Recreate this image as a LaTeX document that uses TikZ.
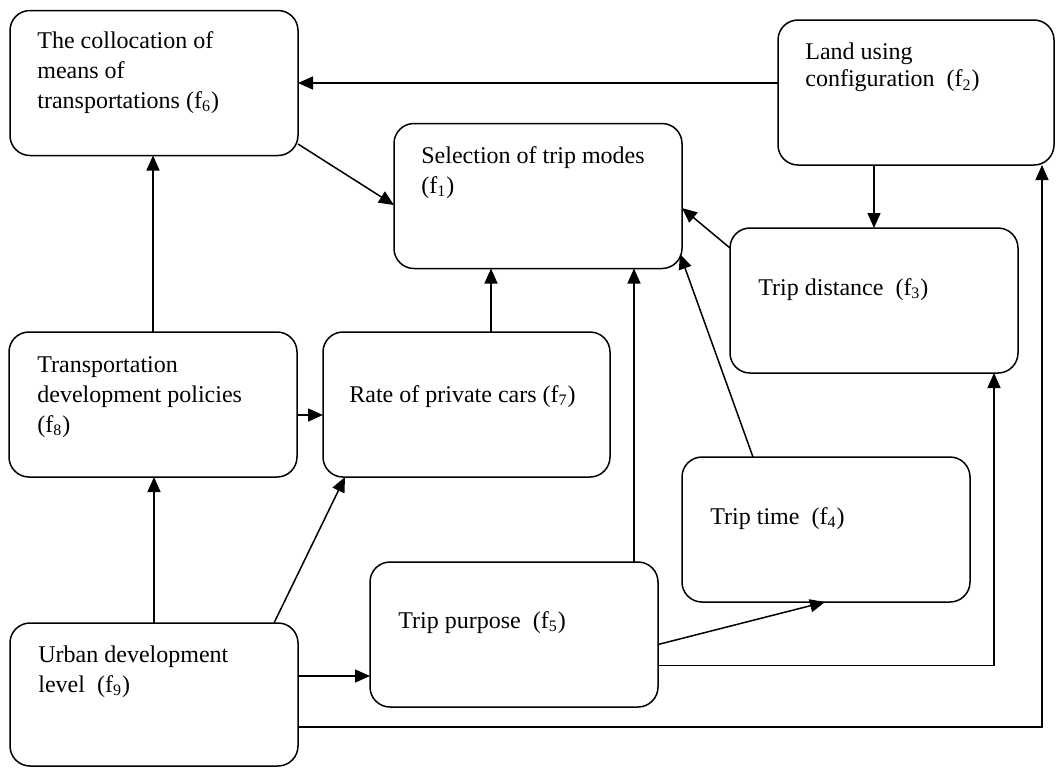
\documentclass[tikz,border=0pt]{standalone}
\usepackage{fontspec}
\setmainfont{Liberation Serif}
\usetikzlibrary{arrows.meta}
\begin{document}
\begin{tikzpicture}[x=0.5pt,y=-0.5pt,
  box/.style={draw, line width=0.75pt, rounded corners=10pt, minimum width=144pt, minimum height=72.5pt, inner sep=0pt, outer sep=0pt, anchor=north west},
  lbl/.style={anchor=base west, inner sep=0pt, font=\fontsize{12pt}{15pt}\selectfont},
  arr/.style={line width=0.75pt, -{Triangle[length=7.5pt,width=6.5pt]}}]
\useasboundingbox (0,0) rectangle (1057,768);
% boxes
\node[box] (f6) at (10,10.5) {};
\node[box, minimum width=138pt] (f2) at (778,20) {};
\node[box] (f1) at (394,123.5) {};
\node[box] (f3) at (730,228) {};
\node[box] (f8) at (9,332) {};
\node[box, minimum width=143.5pt] (f7) at (323,332) {};
\node[box] (f4) at (682,457) {};
\node[box] (f5) at (370,562) {};
\node[box, minimum height=71.5pt] (f9) at (10,623) {};
% labels
\node[lbl] (t6) at (37,48) {\begin{tabular}[t]{@{}l@{}}The collocation of\\ means of\\ transportations (f\textsubscript{6})\end{tabular}};
\node[lbl] (t2) at (805,59) {\renewcommand{\arraystretch}{0.93}\begin{tabular}[t]{@{}l@{}}Land using\\ configuration\ \ (f\textsubscript{2})\end{tabular}};
\node[lbl] (t1) at (421,163) {\begin{tabular}[t]{@{}l@{}}Selection of trip modes\\ (f\textsubscript{1})\end{tabular}};
\node[lbl] (t3) at (758,295) {Trip distance\ \ (f\textsubscript{3})};
\node[lbl] (t8) at (37,372) {\begin{tabular}[t]{@{}l@{}}Transportation\\ development policies\\ (f\textsubscript{8})\end{tabular}};
\node[lbl] (t7) at (349,402) {Rate of private cars (f\textsubscript{7})};
\node[lbl] (t4) at (710,524) {Trip time\ \ (f\textsubscript{4})};
\node[lbl] (t5) at (398,628) {Trip purpose\ \ (f\textsubscript{5})};
\node[lbl] (t9) at (38,662) {\begin{tabular}[t]{@{}l@{}}Urban development\\ level\ \ (f\textsubscript{9})\end{tabular}};
% connectors
\draw[arr] (f6.east -| f2.west) -- (f6.east);
\draw[arr] ([yshift=-30.5pt]f6.east) -- ([yshift=-4.5pt]f1.west);
\draw[arr] (f3.north |- f2.south) -- (f3.north);
\draw[arr] ([yshift=-10pt]f3.north west) -- ([yshift=-6pt]f1.east);
\draw[arr] ([xshift=35.5pt]f4.north west) -- ([xshift=-1pt,yshift=-29pt]f1.east);
\draw[arr] ([xshift=12.25pt]f7.north) coordinate (c7) -- (c7 |- f1.south);
\draw[arr] ([xshift=60pt]f5.north) coordinate (c5) -- (c5 |- f1.south);
\draw[arr] (f8.north) -- (f8.north |- f6.south);
\draw[arr] ([yshift=-5.25pt]f8.east) coordinate (c8) -- (c8 -| f7.west);
\draw[arr] (f9.north) -- (f9.north |- f8.south);
\draw[arr] ([xshift=-12pt]f9.north east) -- ([xshift=11pt]f7.south west);
\draw[arr] ([yshift=9.25pt]f9.east) coordinate (c9) -- (c9 -| f5.west);
\draw[arr] ([yshift=-5pt]f5.east) -- ([xshift=71.5pt]f4.south west);
\draw[arr] ([yshift=-15.5pt]f5.east) -| ([xshift=-12pt]f3.south east);
\draw[arr] ([yshift=-16.25pt]f9.east) -| ([xshift=-6pt]f2.south east);
\end{tikzpicture}
\end{document}
